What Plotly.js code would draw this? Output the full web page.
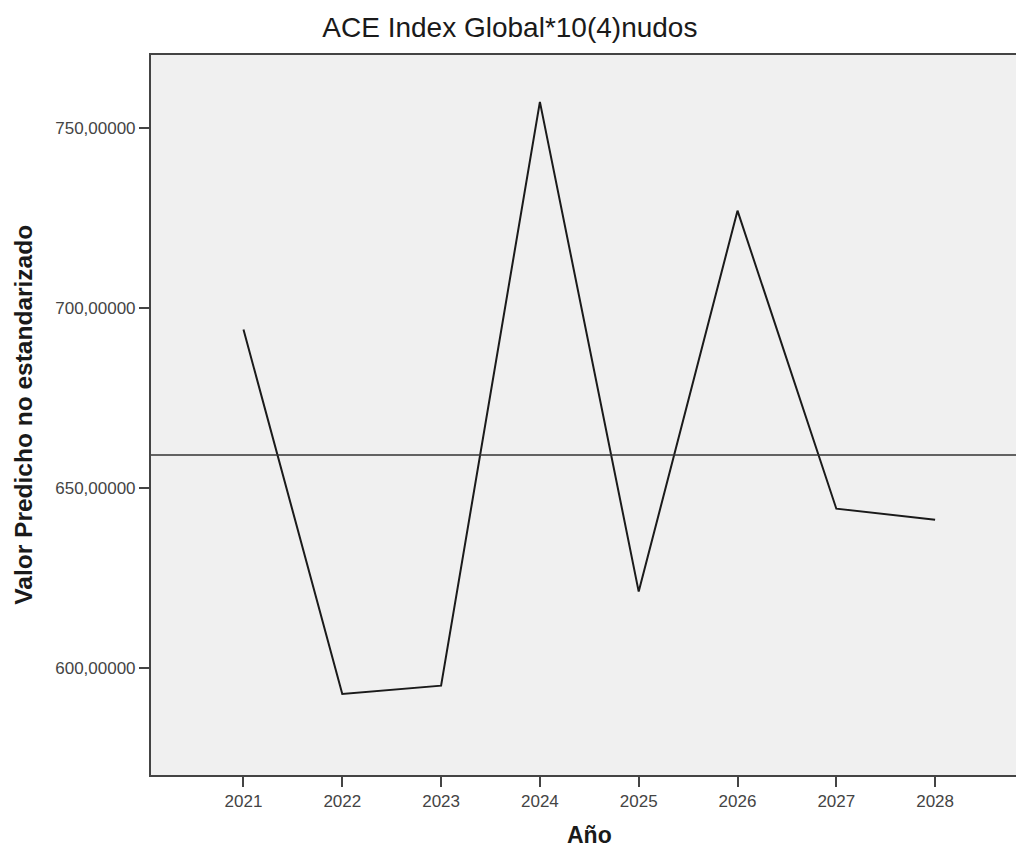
<!DOCTYPE html>
<html>
<head>
<meta charset="utf-8">
<script src="https://cdn.plot.ly/plotly-3.0.1.min.js"></script>
<style>
html, body { margin: 0; padding: 0; overflow: hidden; background: #fff; }
#chart { width: 1028px; height: 848px; }
</style>
</head>
<body>
<div id="chart"></div>
<script>
// Data
const years = [2021, 2022, 2023, 2024, 2025, 2026, 2027, 2028];
const predicted = [694.0, 592.9, 595.2, 757.2, 621.3, 727.0, 644.3, 641.2];
const meanLine = 659.2;
const yTickVals = [600, 650, 700, 750];
const yTickText = ["600,00000", "650,00000", "700,00000", "750,00000"];
const xTickVals = years;
const xTickText = years.map(String);

const chartTitle = "ACE Index Global*10(4)nudos";
const xTitle = "Año";
const yTitle = "Valor Predicho no estandarizado";

const font = "Liberation Sans, Arial, sans-serif";

const trace = {
  x: years,
  y: predicted,
  type: "scatter",
  mode: "lines",
  line: { color: "#1a1a1a", width: 2 },
  hoverinfo: "x+y",
  showlegend: false
};

const layout = {
  width: 1028,
  height: 848,
  margin: { l: 151, r: 0, t: 55, b: 73 },
  paper_bgcolor: "#ffffff",
  plot_bgcolor: "#f0f0f0",
  font: { family: font, color: "#333" },
  title: {
    text: chartTitle,
    font: { family: font, size: 28, color: "#1a1a1a" },
    x: 0.496, xref: "container", xanchor: "center",
    y: 0.968, yref: "container", yanchor: "middle"
  },
  xaxis: {
    range: [2020.064, 2028.94],
    tickmode: "array",
    tickvals: xTickVals,
    ticktext: xTickText,
    ticks: "outside",
    ticklen: 10,
    tickwidth: 2,
    tickcolor: "#444",
    tickfont: { family: font, size: 17, color: "#444" },
    showline: true,
    linecolor: "#444",
    linewidth: 2,
    mirror: true,
    showgrid: false,
    zeroline: false,
    fixedrange: true
  },
  yaxis: {
    range: [570.4, 770.2],
    tickmode: "array",
    tickvals: yTickVals,
    ticktext: yTickText,
    ticks: "outside",
    ticklen: 10,
    tickwidth: 2,
    tickcolor: "#444",
    tickfont: { family: font, size: 17, color: "#444" },
    showline: true,
    linecolor: "#444",
    linewidth: 2,
    mirror: false,
    showgrid: false,
    zeroline: false,
    fixedrange: true
  },
  shapes: [
    {
      type: "line",
      xref: "paper", x0: 0, x1: 1,
      yref: "y", y0: meanLine, y1: meanLine,
      line: { color: "#333", width: 1.5 }
    }
  ],
  annotations: [
    {
      text: "<b>" + xTitle + "</b>",
      xref: "paper", yref: "paper",
      x: 0.5, y: -0.084,
      xanchor: "center", yanchor: "middle",
      showarrow: false,
      font: { family: font, size: 23, color: "#1a1a1a" }
    },
    {
      text: "<b>" + yTitle + "</b>",
      xref: "paper", yref: "paper",
      x: -0.1463, y: 0.5,
      xanchor: "center", yanchor: "middle",
      textangle: -90,
      showarrow: false,
      font: { family: font, size: 24.5, color: "#1a1a1a" }
    }
  ]
};

Plotly.newPlot("chart", [trace], layout, { displayModeBar: false, staticPlot: true });
</script>
</body>
</html>
